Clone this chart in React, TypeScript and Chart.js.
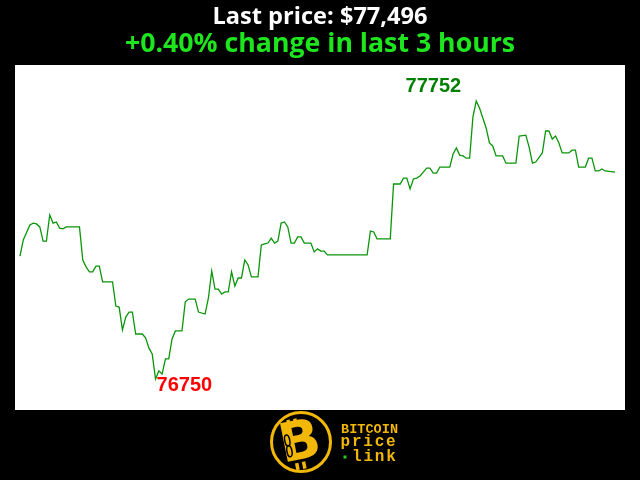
import { useEffect, useRef } from "react";
import { Chart, registerables } from "chart.js";

Chart.register(...registerables);

// minutes since start of the 3-hour window
const minutes = [
  0, 1, 3, 4, 5, 6, 7, 8, 9, 10, 11, 12, 13, 14, 18, 19, 20, 21, 22, 23, 24, 25, 28, 29, 30,
  31, 32, 33, 34, 35, 37, 38, 39, 40, 41, 42, 43, 44, 45, 46, 47, 49, 50, 51, 53, 54, 56, 57,
  58, 59, 60, 61, 62, 63, 64, 65, 66, 67, 68, 69, 70, 72, 73, 74, 75, 76, 77, 78, 79, 80, 81,
  82, 83, 84, 85, 86, 88, 89, 90, 91, 92, 93, 105, 106, 107, 108, 112, 113, 115, 116, 117, 118,
  119, 120, 121, 122, 123, 124, 125, 126, 127, 130, 131, 132, 133, 134, 135, 136, 137, 138, 139,
  140, 141, 142, 143, 144, 146, 147, 150, 151, 153, 154, 155, 156, 158, 159, 160, 161, 162, 163,
  164, 166, 167, 168, 169, 171, 172, 173, 174, 175, 176, 177, 180,
];

// BTC price in USD
const prices = [
  77193, 77251, 77305, 77312, 77309, 77298, 77247, 77247, 77341, 77312, 77316, 77294, 77291,
  77298, 77298, 77179, 77154, 77136, 77136, 77157, 77157, 77100, 77100, 77013, 77009, 76927,
  76973, 76991, 76991, 76912, 76912, 76898, 76862, 76840, 76750, 76779, 76768, 76822, 76822,
  76894, 76923, 76923, 77028, 77038, 77038, 76991, 76984, 77042, 77139, 77074, 77074, 77056,
  77064, 77064, 77136, 77085, 77114, 77114, 77179, 77161, 77118, 77118, 77233, 77237, 77240,
  77258, 77240, 77247, 77312, 77316, 77298, 77240, 77240, 77262, 77262, 77240, 77240, 77208,
  77219, 77211, 77211, 77197, 77197, 77283, 77280, 77255, 77255, 77453, 77453, 77474, 77474,
  77435, 77471, 77474, 77482, 77496, 77510, 77510, 77492, 77492, 77514, 77514, 77561, 77583,
  77557, 77554, 77546, 77546, 77694, 77752, 77727, 77691, 77655, 77601, 77590, 77554, 77554,
  77528, 77528, 77626, 77629, 77586, 77528, 77532, 77565, 77644, 77644, 77615, 77626, 77601,
  77565, 77565, 77575, 77575, 77514, 77514, 77546, 77546, 77500, 77500, 77507, 77500, 77496,
];

const titleText = "Last price: $77,496";
const subtitleText = "+0.40% change in last 3 hours";
const logoLines = ["BITCOIN", "price", "link"];

const drawPlugin = {
  id: "btcDecor",
  beforeDraw(chart: any) {
    const { ctx, width, height, chartArea } = chart;
    ctx.save();
    ctx.fillStyle = "#000000";
    ctx.fillRect(0, 0, width, height);
    ctx.fillStyle = "#ffffff";
    ctx.fillRect(chartArea.left, chartArea.top, chartArea.right - chartArea.left, chartArea.bottom - chartArea.top);
    ctx.restore();
  },
  afterDatasetsDraw(chart: any) {
    const { ctx } = chart;
    const xs = chart.scales.x;
    const ys = chart.scales.y;
    let iMin = 0;
    let iMax = 0;
    prices.forEach((p, i) => {
      if (p < prices[iMin]) iMin = i;
      if (p > prices[iMax]) iMax = i;
    });
    ctx.save();
    ctx.font = "bold 20px 'Liberation Sans', Arial, sans-serif";
    ctx.textBaseline = "alphabetic";
    ctx.fillStyle = "#008000";
    ctx.textAlign = "right";
    ctx.fillText(String(prices[iMax]), xs.getPixelForValue(minutes[iMax]) - 15, ys.getPixelForValue(prices[iMax]) - 9);
    ctx.fillStyle = "#ff0000";
    ctx.textAlign = "left";
    ctx.fillText(String(prices[iMin]), xs.getPixelForValue(minutes[iMin]) + 1, ys.getPixelForValue(prices[iMin]) + 12);
    ctx.restore();
  },
  afterDraw(chart: any) {
    const { ctx, width } = chart;
    ctx.save();
    ctx.textAlign = "center";
    ctx.textBaseline = "alphabetic";
    ctx.fillStyle = "#ffffff";
    ctx.font = "bold 23.6px 'Open Sans', sans-serif";
    ctx.fillText(titleText, width / 2, 24);
    ctx.fillStyle = "#1ee61e";
    ctx.font = "bold 26.7px 'Open Sans', sans-serif";
    ctx.fillText(subtitleText, width / 2, 52);

    // logo
    const yellow = "#f2b807";
    const cx = 301;
    const cy = 442;
    ctx.strokeStyle = yellow;
    ctx.lineWidth = 3;
    ctx.beginPath();
    ctx.arc(cx, cy, 29.5, 0, Math.PI * 2);
    ctx.stroke();

    ctx.translate(cx - 1, cy + 1);
    ctx.rotate(-0.2);
    ctx.fillStyle = yellow;
    ctx.font = "bold 54px 'DejaVu Sans', sans-serif";
    ctx.textAlign = "center";
    ctx.textBaseline = "middle";
    ctx.fillText("B", 0, 2);
    ctx.fillRect(-9, -25, 3.5, 7);
    ctx.fillRect(-2, -25, 3.5, 7);
    ctx.fillRect(-9, 19, 3.5, 7);
    ctx.fillRect(-2, 19, 3.5, 7);
    ctx.strokeStyle = "#000000";
    ctx.lineWidth = 1.5;
    ctx.beginPath();
    ctx.ellipse(-12, -5, 2.5, 5.5, 0, 0, Math.PI * 2);
    ctx.stroke();
    ctx.beginPath();
    ctx.ellipse(-12, 6, 2.5, 5.5, 0, 0, Math.PI * 2);
    ctx.stroke();
    ctx.setTransform(chart.currentDevicePixelRatio, 0, 0, chart.currentDevicePixelRatio, 0, 0);

    ctx.fillStyle = yellow;
    ctx.textAlign = "left";
    ctx.textBaseline = "alphabetic";
    ctx.font = "bold 13.5px 'Liberation Mono', monospace";
    const l0 = logoLines[0];
    for (let i = 0; i < l0.length; i++) ctx.fillText(l0[i], 341 + i * 8.15, 432.5);
    ctx.font = "bold 16px 'Liberation Mono', monospace";
    const l1 = logoLines[1];
    for (let i = 0; i < l1.length; i++) ctx.fillText(l1[i], 340.5 + i * 11.4, 446);
    const l2 = logoLines[2];
    for (let i = 0; i < l2.length; i++) ctx.fillText(l2[i], 352 + i * 11.4, 460.5);
    ctx.fillStyle = "#22cc22";
    ctx.fillRect(343.5, 455.5, 3, 3);
    ctx.restore();
  },
};

export default function App() {
  const canvasRef = useRef<HTMLCanvasElement | null>(null);

  useEffect(() => {
    document.body.style.margin = "0";
    document.body.style.background = "#000";
    const canvas = canvasRef.current;
    if (!canvas) return;
    const chart = new Chart(canvas, {
      type: "line",
      data: {
        datasets: [
          {
            data: minutes.map((m, i) => ({ x: m, y: prices[i] })),
            borderColor: "#0a960a",
            borderWidth: 1.3,
            pointRadius: 0,
            tension: 0,
            fill: false,
          },
        ],
      },
      options: {
        animation: false,
        responsive: true,
        maintainAspectRatio: false,
        layout: { padding: { left: 15, right: 15, top: 65, bottom: 70 } },
        plugins: {
          legend: { display: false },
          title: { display: false },
          tooltip: { enabled: false },
        },
        scales: {
          x: { type: "linear", display: false, min: -1.5, max: 183 },
          y: { type: "linear", display: false, min: 76638, max: 77882 },
        },
      },
      plugins: [drawPlugin],
    });
    return () => chart.destroy();
  }, []);

  return (
    <div style={{ position: "fixed", left: 0, top: 0, width: 640, height: 480, background: "#000" }}>
      <canvas ref={canvasRef} />
    </div>
  );
}
